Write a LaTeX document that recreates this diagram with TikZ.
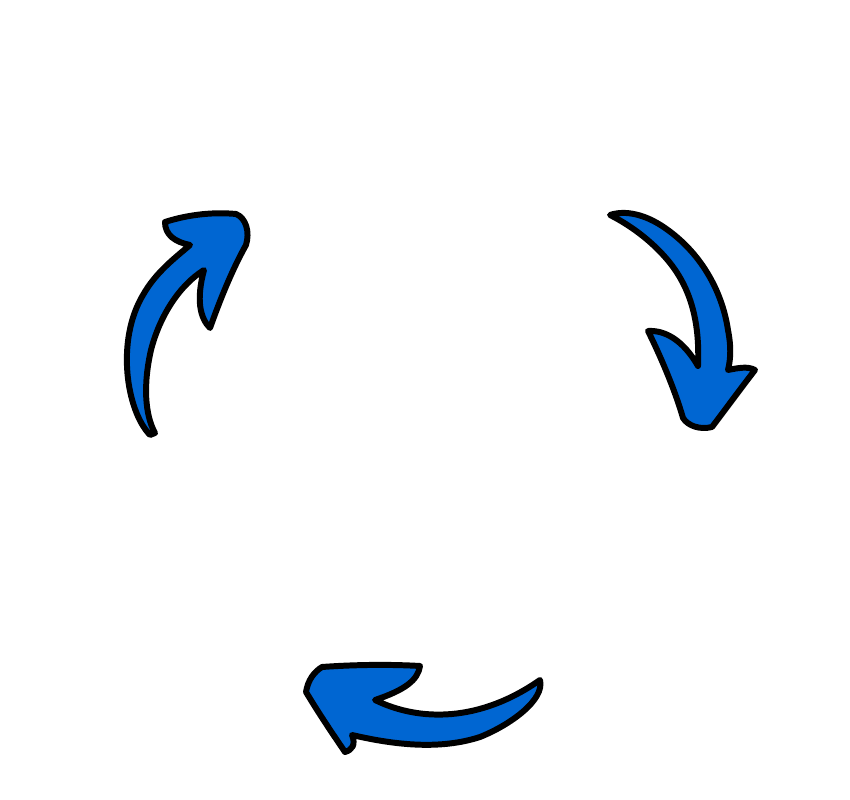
\documentclass[tikz,border=0pt]{standalone}
\definecolor{arrowblue}{HTML}{0066D2}
\begin{document}
\begin{tikzpicture}[x=0.02cm,y=-0.02cm,
    bentarrow/.style={fill=arrowblue,draw=black,line width=3.4pt,line join=round}]
    \useasboundingbox (0,0) rectangle (850,800);
    % upper left arrow
    \draw[bentarrow] (150,435) .. controls (126,410) and (116,340) .. (143,295)
        .. controls (156,272) and (175,258) .. (190,245)
        .. controls (175,242) and (165,235) .. (165,222)
        .. controls (190,214) and (215,212) .. (236,214)
        .. controls (246,218) and (250,232) .. (246,245)
        .. controls (232,270) and (220,300) .. (210,328)
        .. controls (200,318) and (196,300) .. (204,270)
        .. controls (180,285) and (160,315) .. (151,350)
        .. controls (143,385) and (145,415) .. (155,433) -- cycle;
    % right arrow
    \draw[bentarrow] (610,215) .. controls (625,210) and (645,214) .. (665,228)
        .. controls (700,252) and (722,290) .. (728,330)
        .. controls (731,345) and (731,358) .. (728,370)
        .. controls (738,368) and (748,366) .. (755,370)
        .. controls (738,392) and (725,410) .. (712,427)
        .. controls (700,430) and (688,426) .. (683,418)
        .. controls (675,390) and (660,355) .. (648,331)
        .. controls (665,330) and (683,340) .. (698,366)
        .. controls (700,320) and (690,285) .. (665,257)
        .. controls (650,240) and (630,225) .. (610,215) -- cycle;
    % bottom arrow
    \draw[bentarrow] (540,680) .. controls (545,700) and (510,725) .. (480,737)
        .. controls (440,750) and (395,745) .. (352,735)
        .. controls (356,745) and (352,750) .. (345,752)
        .. controls (330,730) and (318,712) .. (306,692)
        .. controls (308,680) and (314,672) .. (322,667)
        .. controls (350,665) and (385,664) .. (420,666)
        .. controls (418,680) and (405,690) .. (375,700)
        .. controls (420,722) and (480,722) .. (540,680) -- cycle;
\end{tikzpicture}
\end{document}
